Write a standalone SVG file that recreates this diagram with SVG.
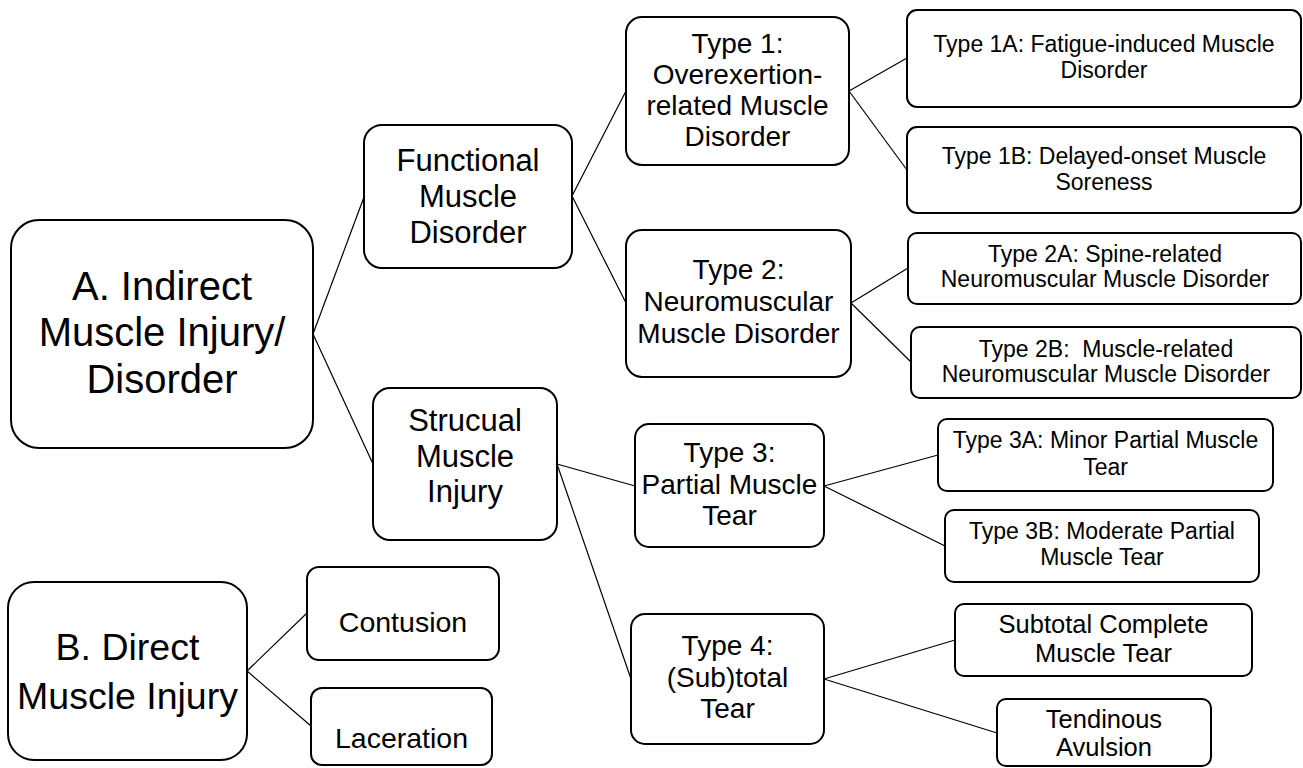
<svg xmlns="http://www.w3.org/2000/svg" width="1303" height="768" viewBox="0 0 1303 768">
<style>
rect{fill:#fff;stroke:#000;stroke-width:2}
text{font-family:"Liberation Sans",Arial,sans-serif;fill:#000;text-anchor:middle}
.xl{font-size:40px}
.xb{font-size:37.5px}
.l{font-size:31px}
.m{font-size:28px}
.s{font-size:23px}
.sm{font-size:25.5px}
.c{font-size:28.5px}
#connectors line{stroke:#000;stroke-width:1.2}
</style>
<rect width="1303" height="768" style="fill:#fff;stroke:none"/>
<g id="connectors">
<line x1="313" y1="334" x2="364" y2="197"/>
<line x1="313" y1="334" x2="373" y2="464"/>
<line x1="572" y1="196" x2="626" y2="91"/>
<line x1="572" y1="196" x2="626" y2="303"/>
<line x1="849" y1="91" x2="907" y2="58"/>
<line x1="849" y1="91" x2="907" y2="170"/>
<line x1="851" y1="303" x2="908" y2="268"/>
<line x1="851" y1="303" x2="911" y2="362"/>
<line x1="557" y1="464" x2="635" y2="486"/>
<line x1="557" y1="464" x2="631" y2="679"/>
<line x1="824" y1="486" x2="938" y2="455"/>
<line x1="824" y1="486" x2="945" y2="546"/>
<line x1="824" y1="679" x2="955" y2="640"/>
<line x1="824" y1="679" x2="997" y2="733"/>
<line x1="247" y1="671" x2="307" y2="613"/>
<line x1="247" y1="671" x2="311" y2="726"/>
</g>
<g id="nodeA">
<rect x="11" y="220" width="302" height="228" rx="28"/>
<text class="xl" x="162" y="300">A. Indirect</text>
<text class="xl" x="162" y="346">Muscle Injury/</text>
<text class="xl" x="162" y="393">Disorder</text>
</g>
<g id="nodeFunctional">
<rect x="364" y="125" width="208" height="143" rx="18"/>
<text class="l" x="468" y="171">Functional</text>
<text class="l" x="468" y="207">Muscle</text>
<text class="l" x="468" y="243">Disorder</text>
</g>
<g id="nodeStructural">
<rect x="373" y="388" width="184" height="152" rx="17"/>
<text class="l" x="465" y="431">Strucual</text>
<text class="l" x="465" y="467">Muscle</text>
<text class="l" x="465" y="502">Injury</text>
</g>
<g id="nodeType1">
<rect x="626" y="17" width="223" height="148" rx="16"/>
<text class="m" x="737.5" y="53">Type 1:</text>
<text class="m" x="737.5" y="84">Overexertion-</text>
<text class="m" x="737.5" y="115">related Muscle</text>
<text class="m" x="737.5" y="146">Disorder</text>
</g>
<g id="nodeType2">
<rect x="626" y="230" width="225" height="147" rx="16"/>
<text class="m" x="738.5" y="279">Type 2:</text>
<text class="m" x="738.5" y="311">Neuromuscular</text>
<text class="m" x="738.5" y="343">Muscle Disorder</text>
</g>
<g id="nodeType3">
<rect x="635" y="424" width="189" height="123" rx="14"/>
<text class="m" x="729.5" y="462">Type 3:</text>
<text class="m" x="729.5" y="494">Partial Muscle</text>
<text class="m" x="729.5" y="525">Tear</text>
</g>
<g id="nodeType4">
<rect x="631" y="614" width="193" height="130" rx="14"/>
<text class="m" x="727.5" y="655">Type 4:</text>
<text class="m" x="727.5" y="687">(Sub)total</text>
<text class="m" x="727.5" y="718">Tear</text>
</g>
<g id="nodeType1A">
<rect x="907" y="10" width="394" height="97" rx="10"/>
<text class="s" x="1104" y="52">Type 1A: Fatigue-induced Muscle</text>
<text class="s" x="1104" y="78">Disorder</text>
</g>
<g id="nodeType1B">
<rect x="907" y="127" width="394" height="86" rx="10"/>
<text class="s" x="1104" y="164">Type 1B: Delayed-onset Muscle</text>
<text class="s" x="1104" y="190">Soreness</text>
</g>
<g id="nodeType2A">
<rect x="908" y="233" width="393" height="71" rx="9"/>
<text class="s" x="1105" y="262">Type 2A: Spine-related</text>
<text class="s" x="1105" y="287">Neuromuscular Muscle Disorder</text>
</g>
<g id="nodeType2B">
<rect x="911" y="327" width="390" height="71" rx="9"/>
<text class="s" x="1106" y="357" xml:space="preserve">Type 2B:  Muscle-related</text>
<text class="s" x="1106" y="382">Neuromuscular Muscle Disorder</text>
</g>
<g id="nodeType3A">
<rect x="938" y="419" width="335" height="72" rx="9"/>
<text class="s" x="1105.5" y="448">Type 3A: Minor Partial Muscle</text>
<text class="s" x="1105.5" y="475">Tear</text>
</g>
<g id="nodeType3B">
<rect x="945" y="510" width="314" height="72" rx="9"/>
<text class="s" x="1102" y="539">Type 3B: Moderate Partial</text>
<text class="s" x="1102" y="565">Muscle Tear</text>
</g>
<g id="nodeSubtotal">
<rect x="955" y="604" width="297" height="72" rx="9"/>
<text class="sm" x="1103.5" y="633">Subtotal Complete</text>
<text class="sm" x="1103.5" y="662">Muscle Tear</text>
</g>
<g id="nodeTendinous">
<rect x="997" y="699" width="214" height="67" rx="9"/>
<text class="sm" x="1104" y="728">Tendinous</text>
<text class="sm" x="1104" y="756">Avulsion</text>
</g>
<g id="nodeB">
<rect x="8" y="582" width="239" height="178" rx="26"/>
<text class="xb" x="127.5" y="660">B. Direct</text>
<text class="xb" x="127.5" y="709">Muscle Injury</text>
</g>
<g id="nodeContusion">
<rect x="307" y="567" width="192" height="93" rx="12"/>
<text class="c" x="403" y="632">Contusion</text>
</g>
<g id="nodeLaceration">
<rect x="311" y="688" width="181" height="77" rx="11"/>
<text class="c" x="401.5" y="748">Laceration</text>
</g>
</svg>
